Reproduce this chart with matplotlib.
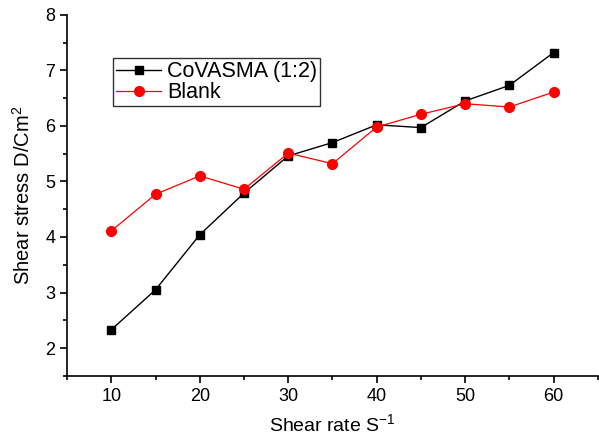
import matplotlib
matplotlib.use('Agg')
import matplotlib.pyplot as plt
import matplotlib.ticker as mtick

plt.rcParams['font.family'] = ['Liberation Sans', 'DejaVu Sans']

shear_rate = [10, 15, 20, 25, 30, 35, 40, 45, 50, 55, 60]
covasma = [2.33, 3.05, 4.04, 4.79, 5.46, 5.70, 6.02, 5.97, 6.45, 6.73, 7.32]
blank = [4.11, 4.77, 5.10, 4.86, 5.51, 5.32, 5.98, 6.21, 6.40, 6.34, 6.61]

fig = plt.figure(figsize=(5.99, 4.37), dpi=100)
ax = fig.add_axes([0.112, 0.14, 0.886, 0.826])

ax.plot(shear_rate, covasma, color='black', lw=1, marker='s', ms=6,
        label='CoVASMA (1:2)')
ax.plot(shear_rate, blank, color='red', lw=0.9, marker='o', ms=7,
        label='Blank')

ax.set_xlim(5, 65)
ax.set_ylim(1.5, 8)
ax.xaxis.set_major_locator(mtick.MultipleLocator(10))
ax.xaxis.set_minor_locator(mtick.MultipleLocator(5))
ax.yaxis.set_major_locator(mtick.MultipleLocator(1))
ax.yaxis.set_minor_locator(mtick.MultipleLocator(0.5))
ax.tick_params(which='major', direction='out', length=5, width=1.2, labelsize=13)
ax.tick_params(which='minor', direction='out', length=3, width=1.2)

ax.spines['top'].set_visible(False)
ax.spines['right'].set_visible(False)
ax.spines['left'].set_linewidth(1.2)
ax.spines['bottom'].set_linewidth(1.2)

ax.set_xlabel(r'Shear rate S$\mathregular{^{-1}}$', fontsize=14, labelpad=6)
ax.set_ylabel(r'Shear stress D/Cm$\mathregular{^{2}}$', fontsize=14.5, labelpad=8)

leg = ax.legend(loc='upper left', bbox_to_anchor=(113 / 599, 379 / 437),
                bbox_transform=fig.transFigure, fontsize=15.5,
                frameon=True, fancybox=False, edgecolor='black',
                handlelength=2.1, borderpad=0.15, labelspacing=0.0,
                handletextpad=0.25, borderaxespad=0)
leg.get_frame().set_linewidth(1)

fig.savefig('out.png', dpi=100)
